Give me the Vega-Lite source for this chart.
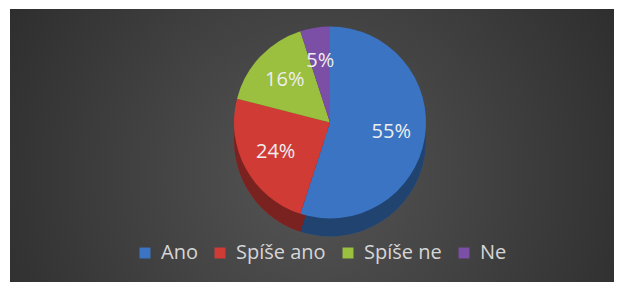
{
  "$schema": "https://vega.github.io/schema/vega-lite/v6.json",
  "width": 621,
  "height": 282,
  "autosize": {"type": "fit", "contains": "padding"},
  "padding": {"left": 10, "right": 7, "top": 9, "bottom": 0},
  "background": "#ffffff",
  "view": {
    "stroke": null,
    "fill": {
      "gradient": "radial",
      "x1": 0.5, "y1": 0.55, "r1": 0,
      "x2": 0.5, "y2": 0.55, "r2": 0.75,
      "stops": [
        {"offset": 0, "color": "#555555"},
        {"offset": 1, "color": "#222222"}
      ]
    }
  },
  "data": {
    "values": [
      {"kategorie": "Ano", "podil": 0.55, "poradi": 1},
      {"kategorie": "Spíše ano", "podil": 0.24, "poradi": 2},
      {"kategorie": "Spíše ne", "podil": 0.16, "poradi": 3},
      {"kategorie": "Ne", "podil": 0.05, "poradi": 4}
    ]
  },
  "encoding": {
    "theta": {"field": "podil", "type": "quantitative", "stack": true},
    "order": {"field": "poradi", "type": "quantitative"}
  },
  "layer": [
    {
      "mark": {"type": "arc", "outerRadius": 96, "xOffset": 18, "yOffset": -5},
      "encoding": {
        "color": {
          "field": "kategorie",
          "type": "nominal",
          "scale": {
            "domain": ["Ano", "Spíše ano", "Spíše ne", "Ne"],
            "range": ["#3a74c2", "#d13b36", "#9bbf3f", "#7b4fa6"]
          },
          "legend": {
            "orient": "none",
            "legendX": 125,
            "legendY": 234,
            "direction": "horizontal",
            "title": null,
            "symbolType": "square",
            "symbolSize": 120,
            "symbolStrokeWidth": 0,
            "labelFont": "Open Sans",
            "labelFontSize": 20,
            "labelColor": "#d6d6d6",
            "labelOffset": 6,
            "columnPadding": 12,
            "padding": 0
          }
        }
      }
    },
    {
      "mark": {"type": "arc", "outerRadius": 96, "xOffset": 18, "yOffset": -5, "color": "#000000", "opacity": 0.42},
      "encoding": {}
    },
    {
      "mark": {"type": "arc", "outerRadius": 96, "xOffset": 18, "yOffset": -23},
      "encoding": {
        "color": {"field": "kategorie", "type": "nominal"}
      }
    },
    {
      "mark": {"type": "text", "radius": 62, "fontSize": 20, "font": "Open Sans", "fill": "#eeeeee", "xOffset": 18, "yOffset": -23},
      "encoding": {
        "text": {"field": "podil", "type": "quantitative", "format": ".0%"}
      }
    }
  ]
}
